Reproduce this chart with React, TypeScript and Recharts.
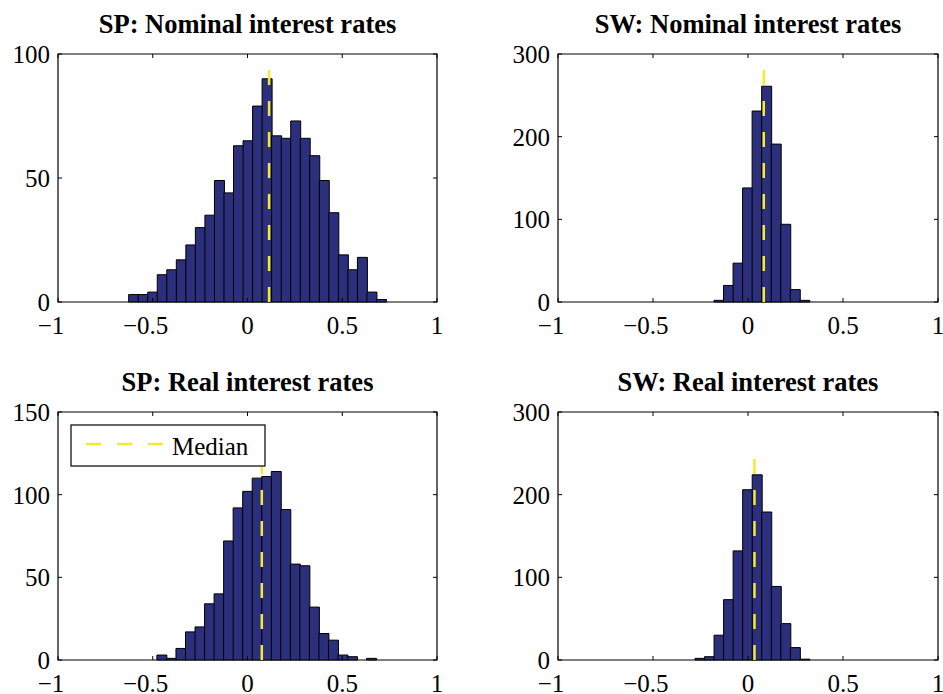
import React from 'react'
import { BarChart, Bar, XAxis, YAxis, ReferenceLine, ReferenceArea } from 'recharts'

const FONT = '"Liberation Serif", "Times New Roman", serif'
const BAR_FILL = '#2c2f7c'
const MEDIAN_COLOR = '#f2eb2e'
const TICK_FS = 25

const X_TICKS = [-1, -0.5, 0, 0.5, 1]

// SP: nominal interest rates
const spNomBins = [
  -0.602, -0.5517, -0.5014, -0.4511, -0.4008, -0.3505, -0.3002, -0.2499, -0.1996,
  -0.1493, -0.099, -0.0487, 0.0016, 0.0519, 0.1022, 0.1525, 0.2028, 0.2531,
  0.3034, 0.3537, 0.404, 0.4543, 0.5046, 0.5549, 0.6052, 0.6555, 0.7058,
]
const spNomCounts = [3, 3, 4, 11, 13, 17, 23, 30, 35, 49, 44, 63, 65, 79, 90, 67, 66, 73, 66, 59, 49, 36, 19, 13, 18, 4, 1]
const spNomMedian = 0.114
const spNomMedianTop = 96.4
const spNomYTicks = [0, 50, 100]

// SW: nominal interest rates
const swNomBins = [-0.154, -0.1038, -0.0536, -0.0034, 0.0468, 0.097, 0.1472, 0.1974, 0.2476, 0.2978]
const swNomCounts = [2, 20, 47, 138, 231, 261, 191, 94, 15, 2]
const swNomMedian = 0.083
const swNomMedianTop = 290
const swNomYTicks = [0, 100, 200, 300]

// SP: real interest rates
const spRealBins = [
  -0.453, -0.4027, -0.3524, -0.3021, -0.2518, -0.2015, -0.1512, -0.1009, -0.0506,
  -0.0003, 0.05, 0.1003, 0.1506, 0.2009, 0.2512, 0.3015, 0.3518, 0.4021, 0.4524,
  0.5027, 0.553, 0.6033, 0.6536,
]
const spRealCounts = [3, 1, 7, 17, 20, 34, 40, 72, 92, 102, 110, 111, 114, 91, 58, 57, 32, 16, 12, 3, 2, 0, 1]
const spRealMedian = 0.0755
const spRealMedianTop = 144
const spRealYTicks = [0, 50, 100, 150]

// SW: real interest rates
const swRealBins = [-0.254, -0.2038, -0.1536, -0.1034, -0.0532, -0.003, 0.0472, 0.0974, 0.1476, 0.1978, 0.248, 0.2982]
const swRealCounts = [2, 4, 30, 73, 132, 206, 224, 179, 89, 44, 15, 1]
const swRealMedian = 0.034
const swRealMedianTop = 250
const swRealYTicks = [0, 100, 200, 300]

const PLOT_TOP = 54
const PLOT_BOTTOM = 302
const X_AXIS_H = 30
const Y_AXIS_W = 50

// rough Times widths (em) to centre the digits and let the minus hang left
function bodyWidth(s: string) {
  let w = 0
  for (const ch of s) w += ch === '.' ? 0.25 : 0.5
  return w * TICK_FS
}

function fmtTick(v: number) {
  const body = String(Math.abs(v))
  return { body, neg: v < 0 }
}

interface PanelProps {
  title: string
  bins: number[]
  counts: number[]
  median: number
  medianTop: number
  yTicks: number[]
  left: number
  top: number
  width: number
  height: number
  marginLeft: number
  marginRight: number
  legend?: boolean
}

function Panel(p: PanelProps) {
  const data = p.bins.map((x, i) => ({ x, n: p.counts[i] }))
  const yMax = p.yTicks[p.yTicks.length - 1]
  const plotLeft = p.marginLeft + Y_AXIS_W
  const plotRight = p.width - p.marginRight

  // eslint-disable-next-line @typescript-eslint/no-explicit-any
  const XTick = (props: any) => {
    const { x, payload } = props
    const { body, neg } = fmtTick(payload.value)
    const w = bodyWidth(body)
    return (
      <g>
        <line x1={x} x2={x} y1={PLOT_BOTTOM} y2={PLOT_BOTTOM - 4} stroke="#000" />
        <line x1={x} x2={x} y1={PLOT_TOP} y2={PLOT_TOP + 4} stroke="#000" />
        <text
          x={x + w / 2}
          y={PLOT_BOTTOM + 32}
          textAnchor="end"
          fontFamily={FONT}
          fontSize={TICK_FS}
          fill="#000"
        >
          {neg ? '\u2212' + body : body}
        </text>
      </g>
    )
  }

  // eslint-disable-next-line @typescript-eslint/no-explicit-any
  const YTick = (props: any) => {
    const { y, payload } = props
    return (
      <g>
        <line x1={plotLeft} x2={plotLeft + 4} y1={y} y2={y} stroke="#000" />
        <line x1={plotRight} x2={plotRight - 4} y1={y} y2={y} stroke="#000" />
        <text
          x={plotLeft - 8}
          y={y}
          dy="0.36em"
          textAnchor="end"
          fontFamily={FONT}
          fontSize={TICK_FS}
          fill="#000"
        >
          {payload.value}
        </text>
      </g>
    )
  }

  return (
    <div style={{ position: 'absolute', left: p.left, top: p.top, width: p.width, height: p.height }}>
      <div
        style={{
          position: 'absolute',
          left: plotLeft,
          width: plotRight - plotLeft,
          top: 9,
          lineHeight: '30px',
          textAlign: 'center',
          fontFamily: FONT,
          fontWeight: 700,
          fontSize: 26.5,
          color: '#000',
          whiteSpace: 'nowrap',
        }}
      >
        {p.title}
      </div>
      <BarChart
        width={p.width}
        height={p.height}
        data={data}
        barCategoryGap={0}
        margin={{ top: PLOT_TOP, right: p.marginRight, bottom: p.height - PLOT_BOTTOM - X_AXIS_H, left: p.marginLeft }}
      >
        <XAxis
          dataKey="x"
          type="number"
          domain={[-1, 1]}
          ticks={X_TICKS}
          height={X_AXIS_H}
          axisLine={false}
          tickLine={false}
          interval={0}
          tick={<XTick />}
        />
        <YAxis
          type="number"
          domain={[0, yMax]}
          ticks={p.yTicks}
          width={Y_AXIS_W}
          axisLine={false}
          tickLine={false}
          interval={0}
          tick={<YTick />}
        />
        <Bar dataKey="n" fill={BAR_FILL} stroke="#000" strokeWidth={1} isAnimationActive={false} />
        <ReferenceLine
          segment={[{ x: p.median, y: 0 }, { x: p.median, y: p.medianTop }]}
          stroke={MEDIAN_COLOR}
          strokeWidth={2.5}
          strokeDasharray="15 16"
        />
        <ReferenceArea x1={-1} x2={1} y1={0} y2={yMax} fill="none" stroke="#000" strokeWidth={1.2} />
      </BarChart>
      {p.legend && (
        <svg
          width={196}
          height={43}
          style={{ position: 'absolute', left: 70, top: 66 }}
        >
          <rect x={1} y={1} width={194} height={41} fill="#fff" stroke="#000" strokeWidth={1.2} />
          <line x1={16} x2={93} y1={20} y2={20} stroke={MEDIAN_COLOR} strokeWidth={2.5} strokeDasharray="15 16" />
          <text x={102} y={31} fontFamily={FONT} fontSize={TICK_FS} fill="#000">
            Median
          </text>
        </svg>
      )}
    </div>
  )
}

export default function App() {
  return (
    <div style={{ position: 'absolute', left: 0, top: 0, width: 943, height: 694, background: '#fff', overflow: 'hidden' }}>
      <Panel
        title="SP: Nominal interest rates"
        bins={spNomBins}
        counts={spNomCounts}
        median={spNomMedian}
        medianTop={spNomMedianTop}
        yTicks={spNomYTicks}
        left={0}
        top={0}
        width={470}
        height={350}
        marginLeft={8}
        marginRight={33}
      />
      <Panel
        title="SW: Nominal interest rates"
        bins={swNomBins}
        counts={swNomCounts}
        median={swNomMedian}
        medianTop={swNomMedianTop}
        yTicks={swNomYTicks}
        left={470}
        top={0}
        width={473}
        height={350}
        marginLeft={38}
        marginRight={5}
      />
      <Panel
        title="SP: Real interest rates"
        bins={spRealBins}
        counts={spRealCounts}
        median={spRealMedian}
        medianTop={spRealMedianTop}
        yTicks={spRealYTicks}
        left={0}
        top={358}
        width={470}
        height={336}
        marginLeft={8}
        marginRight={33}
        legend
      />
      <Panel
        title="SW: Real interest rates"
        bins={swRealBins}
        counts={swRealCounts}
        median={swRealMedian}
        medianTop={swRealMedianTop}
        yTicks={swRealYTicks}
        left={470}
        top={358}
        width={473}
        height={336}
        marginLeft={38}
        marginRight={5}
      />
    </div>
  )
}
